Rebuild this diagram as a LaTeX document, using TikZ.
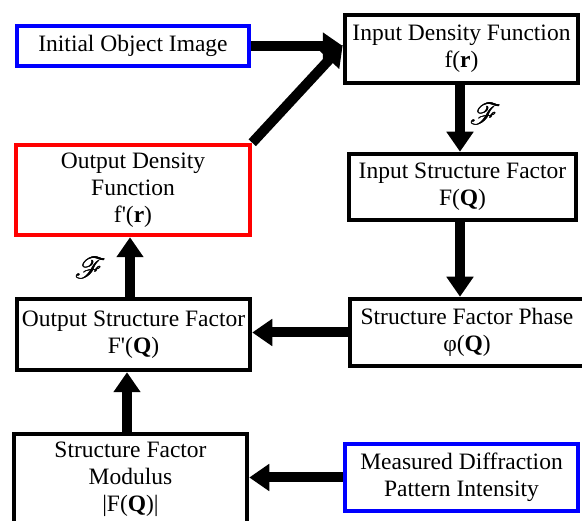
\documentclass[tikz,border=0pt]{standalone}
\usepackage{fontspec}
\setmainfont{Liberation Serif}
\usepackage{mathrsfs}
\usepackage{graphicx}
\usetikzlibrary{arrows.meta}

% enlarged, heavier script F marking the Fourier transform steps
\newcommand{\scrF}{\resizebox{!}{21pt}{$\mathscr{F}$}}
\newcommand{\FourierF}{\makebox[0pt][l]{\scrF}\makebox[0pt][l]{\kern0.7pt\scrF}\makebox[0pt][l]{\kern0.35pt\raisebox{0.4pt}{\scrF}}\phantom{\scrF}}

\begin{document}
\begin{tikzpicture}[x=1pt,y=-1pt,
  box/.style={draw=black, line width=4.5pt, fill=white, align=center,
    inner sep=0pt, font=\fontsize{23.5}{27}\selectfont},
  bluebox/.style={box, draw=blue},
  redbox/.style={box, draw=red},
  flow/.style={line width=10pt, -{Triangle[length=20pt,width=26pt]}},
  ftlabel/.style={inner sep=0pt},
]
\useasboundingbox (0,0) rectangle (582,521);
\clip (0,0) rectangle (582,521);

% left column
\node[bluebox, minimum width=232pt, minimum height=40pt] (init) at (133,46)
  {Initial Object Image};
\node[redbox, minimum width=234pt, minimum height=90pt] (odf) at (133,190)
  {Output Density\\Function\\f\textquotesingle(\textbf{r})};
\node[box, minimum width=233pt, minimum height=71pt] (osf) at (133.5,334.5)
  {Output Structure Factor\\F\textquotesingle(\textbf{Q})};
\node[box, minimum width=233pt, minimum height=90pt] (sfm) at (130.5,479)
  {Structure Factor\\Modulus\\|F(\textbf{Q})|};

% right column
\node[box, minimum width=233pt, minimum height=68pt] (idf) at (461.5,49)
  {Input Density Function\\f(\textbf{r})};
\node[box, minimum width=227pt, minimum height=66pt] (isf) at (462.5,187)
  {Input Structure Factor\\F(\textbf{Q})};
\node[box, minimum width=234pt, minimum height=67pt] (sfp) at (467,332.5)
  {Structure Factor Phase\\φ(\textbf{Q})};
\node[bluebox, minimum width=233pt, minimum height=67pt] (mdp) at (461.5,477.5)
  {Measured Diffraction\\Pattern Intensity};

% connectors
\draw[flow] (init.east) -- (idf.west |- init.east);
\draw[flow] (odf.north east) -- ([yshift=4pt]idf.west);
\draw[flow] (idf.south -| 460,0) -- (isf.north -| 460,0);
\draw[flow] (isf.south -| 460,0) -- (sfp.north -| 460,0);
\draw[flow] (sfp.west) -- (osf.east |- sfp.west);
\draw[flow] (osf.north -| 130,0) -- (odf.south -| 130,0);
\draw[flow] (sfm.north -| 127,0) -- (osf.south -| 127,0);
\draw[flow] (mdp.west) -- (sfm.east |- mdp.west);

% transform labels
\node[ftlabel] (ft1) at (485,114) {\FourierF};
\node[ftlabel] (ft2) at (90,268) {\FourierF};
\end{tikzpicture}
\end{document}
